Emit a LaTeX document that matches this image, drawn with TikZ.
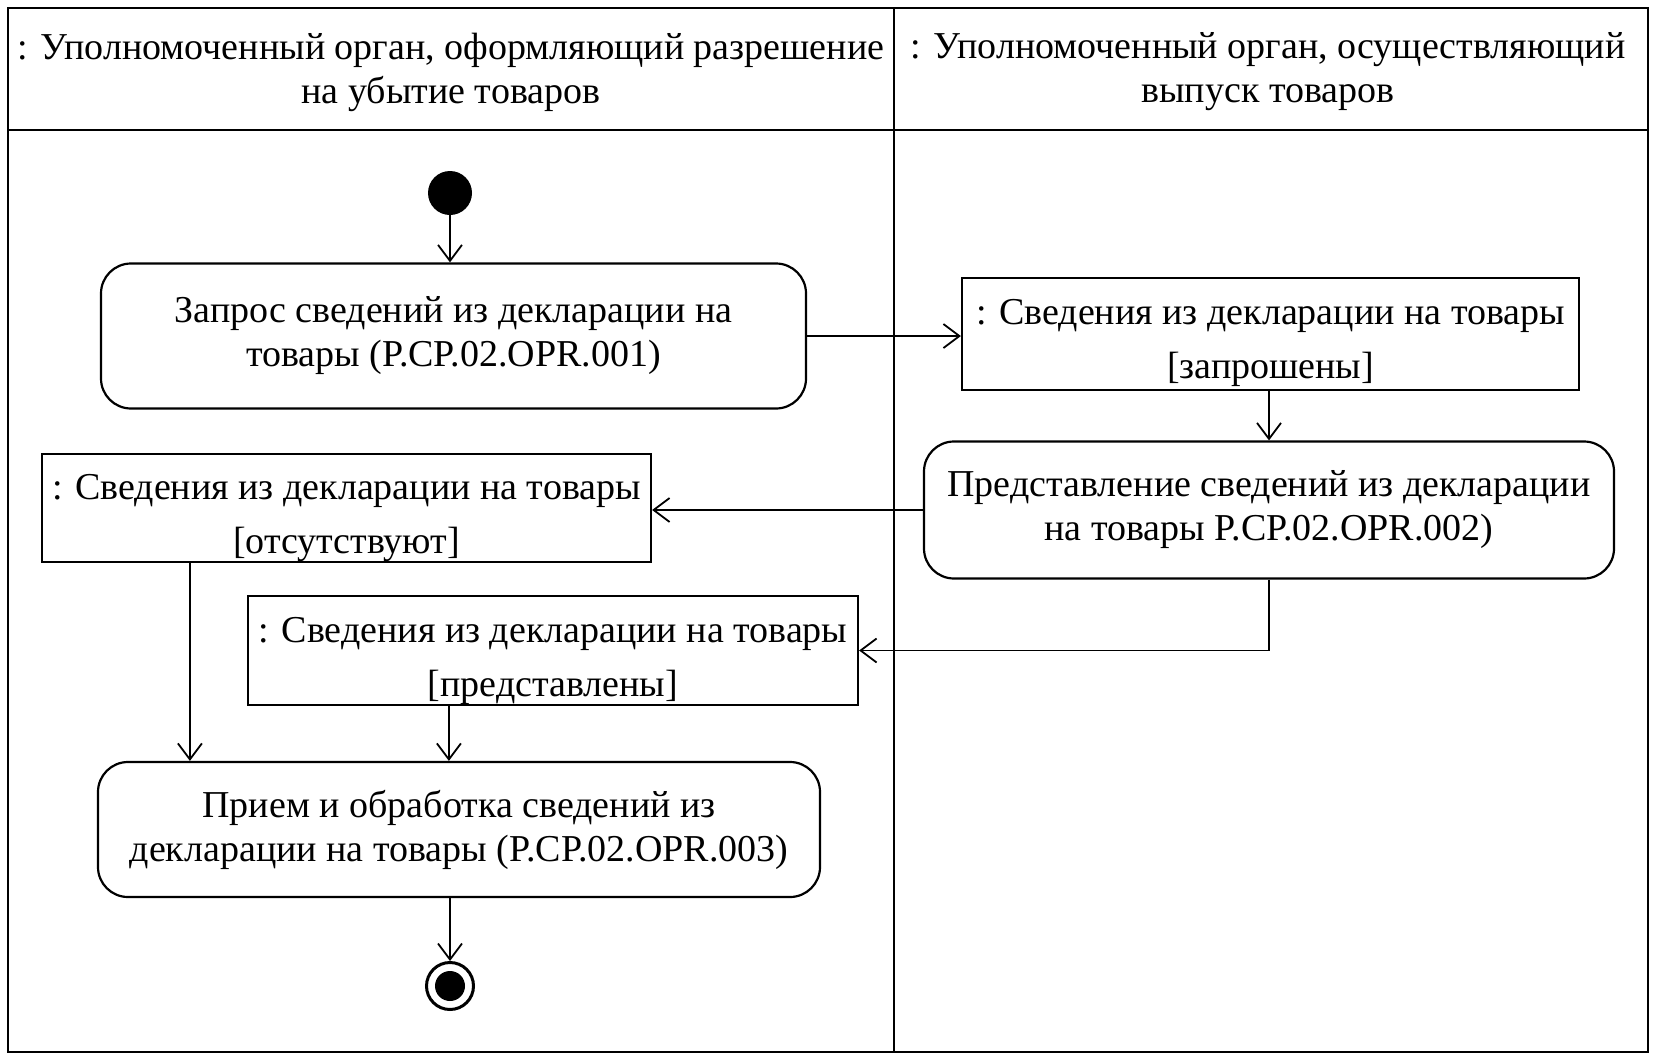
\documentclass[tikz,border=0pt]{standalone}
\usepackage{fontspec}
\setmainfont{Liberation Serif}
\usetikzlibrary{arrows.meta}
\begin{document}
\begin{tikzpicture}[x=1pt,y=-1pt,
  lane/.style={draw, line width=2.5pt},
  txt/.style={font=\fontsize{38}{44}\selectfont, align=center, inner sep=0pt},
  act/.style={txt, draw, line width=2.2pt, rounded corners=30pt},
  obj/.style={draw, line width=2.2pt, inner sep=0pt},
  flow/.style={line width=1.8pt, -{Straight Barb[length=16pt,width=24pt,line width=1.8pt]}}
]
\useasboundingbox (0,0) rectangle (1654,1060);
% swimlanes
\draw[lane] (8,8) rectangle (1648,1052);
\draw[lane] (8,130) -- (1648,130);
\draw[lane] (894,8) -- (894,1052);
\node[txt] (h1) at (451,72) {: Уполномоченный орган, оформляющий разрешение\\на убытие товаров};
\node[txt] (h2) at (1268,72) {: Уполномоченный орган, осуществляющий\\выпуск товаров};

% nodes
\node[circle, fill, minimum size=44pt, inner sep=0pt] (start) at (450,193) {};
\node[act, minimum width=705pt, minimum height=145pt] (act1) at (453.5,336) {Запрос сведений из декларации на\\товары (P.CP.02.OPR.001)};
\node[obj, minimum width=617pt, minimum height=112pt] (obj1) at (1270.5,334) {};
\node[txt] (obj1t) at ([yshift=-9pt]obj1.center) {: Сведения из декларации на товары\\[10pt][запрошены]};
\node[act, minimum width=690pt, minimum height=137pt] (act2) at (1269,510) {Представление сведений из декларации\\на товары P.CP.02.OPR.002)};
\node[obj, minimum width=609pt, minimum height=108pt] (obj2) at (346.5,508) {};
\node[txt] (obj2t) at ([yshift=-10pt]obj2.center) {: Сведения из декларации на товары\\[10pt][отсутствуют]};
\node[obj, minimum width=610pt, minimum height=109pt] (obj3) at (553,650.5) {};
\node[txt] (obj3t) at ([yshift=-10pt]obj3.center) {: Сведения из декларации на товары\\[10pt][представлены]};
\node[act, minimum width=722pt, minimum height=135pt] (act3) at (459,829.5) {Прием и обработка сведений из\\декларации на товары (P.CP.02.OPR.003)};
\node[circle, draw, line width=3pt, minimum size=47pt, inner sep=0pt] (end) at (450,986) {};
\node[circle, fill, minimum size=30pt, inner sep=0pt] (endin) at (end) {};

% connectors
\draw[flow] (start) -- (start |- act1.north);
\draw[flow] (act1.east) -- (obj1.west |- act1.east);
\draw[flow] (act2.north |- obj1.south) -- (act2.north);
\draw[flow] (act2.west) -- (obj2.east |- act2.west);
\draw[flow] (act2.south) |- (obj3.east);
\draw[flow] ([xshift=149pt]obj2.south west) -- ([xshift=149pt]obj2.south west |- act3.north);
\draw[flow] ([xshift=202pt]obj3.south west) -- ([xshift=202pt]obj3.south west |- act3.north);
\draw[flow] (end.north |- act3.south) -- (end.north);
\end{tikzpicture}
\end{document}
